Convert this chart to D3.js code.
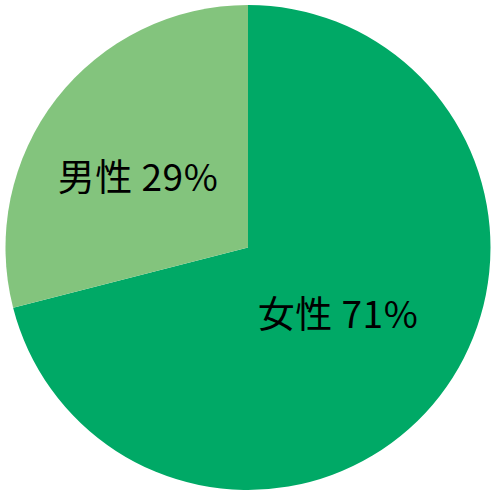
<!DOCTYPE html>
<html><head><meta charset="utf-8">
<script src="https://cdn.jsdelivr.net/npm/d3@7"></script>
<style>html,body{margin:0;padding:0;background:#fff;}svg{display:block;}</style>
</head><body>
<script>
const categories = ["女性", "男性"];
const values = [71, 29];
const colors = ["#00A966", "#83C47D"];

const W = 496, H = 496, cx = 248, cy = 247.5, R = 242.5;
const svg = d3.select("body").append("svg").attr("width", W).attr("height", H);
const g = svg.append("g").attr("transform", `translate(${cx},${cy})`);
const data = categories.map((c, i) => ({cat: c, value: values[i], color: colors[i]}));
const pie = d3.pie().value(d => d.value).sort(null);
const arc = d3.arc().innerRadius(0).outerRadius(R);
const arcs = pie(data);
g.selectAll("path").data(arcs).join("path")
  .attr("d", arc).attr("fill", d => d.data.color);
const labelOffsets = [[90, 80.5], [-110, -56.5]];
g.selectAll("text").data(arcs).join("text")
  .attr("x", (d, i) => labelOffsets[i][0])
  .attr("y", (d, i) => labelOffsets[i][1])
  .attr("text-anchor", "middle")
  .attr("font-family", "'Noto Sans CJK JP', 'Noto Sans', sans-serif")
  .attr("font-size", 37)
  .attr("letter-spacing", 0.5)
  .attr("fill", "#000")
  .text(d => `${d.data.cat} ${d.data.value}%`);
</script>
</body></html>
